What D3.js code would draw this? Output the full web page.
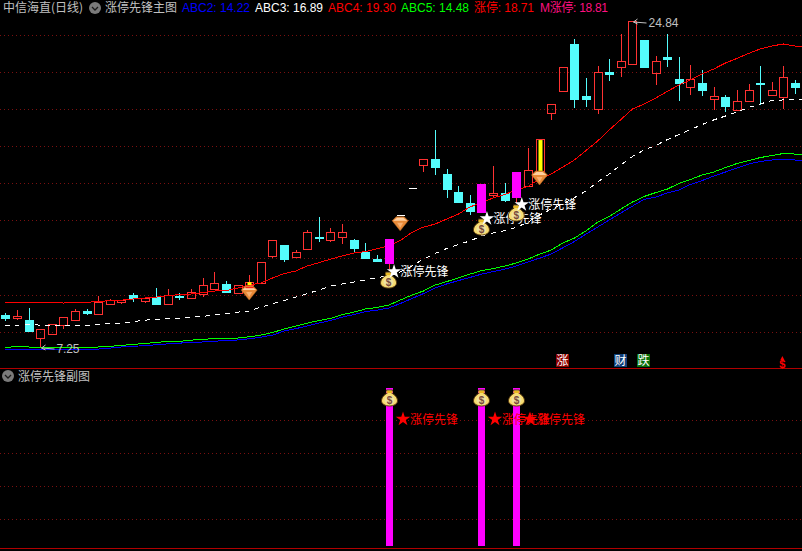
<!DOCTYPE html>
<html>
<head>
<meta charset="utf-8">
<title>涨停先锋</title>
<script src="https://d3js.org/d3.v7.min.js"></script>
<style>
    html, body { margin: 0; padding: 0; background: #000; }
    svg { display: block; }
    text { font-family: "Noto Sans CJK SC", "Liberation Sans", sans-serif; }
    .latin { font-family: "Liberation Sans", sans-serif; }
</style>
</head>
<body>
<div id="chart"></div>
<script>
// Daily candles
var opens = [8.97,8.81,8.70,7.73,7.94,8.43,8.70,9.19,9.03,9.57,9.67,10.05,9.73,9.95,9.57,10.00,9.89,10.10,10.38,10.65,10.16,10.59,10.70,12.16,12.75,12.10,12.53,13.18,13.02,13.18,13.02,12.37,12.00,11.72,14.37,15.83,17.07,17.39,16.58,15.61,15.02,14.47,15.45,15.56,15.29,15.93,16.74,19.87,21.06,23.60,20.79,20.09,22.09,22.36,22.52,23.81,22.03,22.90,21.71,21.28,21.49,20.63,20.74,20.04,20.52,21.49,20.85,20.74,21.49];
var highs = [9.08,9.24,9.35,8.22,8.48,8.86,9.30,9.30,9.99,9.84,9.78,10.16,9.89,10.43,10.38,10.16,10.38,10.97,11.29,10.81,10.59,11.13,11.83,13.02,12.75,12.48,13.56,14.26,13.67,13.88,13.07,12.86,12.21,13.07,14.37,15.83,17.39,18.96,16.85,15.93,15.45,16.04,17.01,16.09,16.69,17.98,18.47,20.36,22.36,23.87,21.76,22.41,22.79,24.14,24.84,23.81,22.95,24.14,22.90,22.46,22.20,21.28,20.85,21.12,21.44,22.41,21.55,22.41,21.66];
var lows = [8.65,8.70,8.05,7.25,7.94,8.22,8.65,8.97,9.03,9.57,9.57,9.67,9.62,9.57,9.57,9.78,9.84,9.95,10.38,10.16,10.16,10.43,10.70,12.05,11.83,12.10,12.53,12.91,12.91,12.80,12.37,12.00,11.83,11.45,14.37,15.83,16.69,16.53,15.29,15.02,14.37,14.47,15.29,15.07,15.02,15.93,16.74,19.50,21.06,20.14,20.20,19.82,21.60,21.82,22.52,22.36,21.39,22.36,20.52,20.85,20.79,20.04,19.93,20.04,20.52,20.31,20.85,20.09,20.90];
var closes = [8.81,8.92,8.11,8.22,8.48,8.86,9.19,9.08,9.67,9.78,9.78,9.89,9.89,9.57,10.05,9.95,10.21,10.59,10.70,10.21,10.59,10.75,11.83,13.02,12.00,12.37,13.45,13.13,13.45,13.45,12.59,12.05,11.89,13.07,14.37,15.83,17.39,16.96,15.77,15.07,14.58,16.04,15.56,15.18,16.69,16.80,18.47,20.36,22.36,20.63,20.63,22.09,21.98,22.68,24.84,22.36,22.68,22.79,21.49,21.71,21.12,20.79,20.25,20.52,21.12,21.44,21.12,21.82,21.28];

// Moving lines, one value past the last candle so they run to the right edge
var abc2 = [7.12,7.14,7.14,7.14,7.14,7.14,7.14,7.14,7.14,7.19,7.25,7.28,7.33,7.37,7.42,7.46,7.49,7.52,7.57,7.58,7.63,7.69,7.78,7.89,8.11,8.24,8.38,8.54,8.68,8.86,9.00,9.16,9.24,9.35,9.59,9.86,10.13,10.43,10.65,10.83,11.00,11.18,11.32,11.45,11.62,11.83,12.05,12.26,12.60,12.94,13.34,13.72,14.10,14.48,14.85,15.21,15.34,15.56,15.72,16.02,16.23,16.47,16.69,16.91,17.12,17.26,17.34,17.39,17.34,17.30];
var abc3 = [8.43,8.43,8.46,8.43,8.43,8.43,8.41,8.41,8.46,8.51,8.54,8.62,8.70,8.73,8.77,8.81,8.86,8.90,8.97,9.05,9.13,9.19,9.40,9.59,9.76,9.94,10.13,10.32,10.54,10.65,10.75,10.86,11.00,11.08,11.29,11.62,11.99,12.29,12.56,12.78,12.97,13.24,13.40,13.53,13.70,13.99,14.37,14.69,14.96,15.31,15.67,16.15,16.58,17.07,17.53,17.88,18.12,18.44,18.71,18.98,19.25,19.50,19.71,19.93,20.17,20.36,20.55,20.58,20.58,20.58];
var abc4 = [9.67,9.67,9.67,9.67,9.67,9.62,9.67,9.67,9.69,9.76,9.78,9.84,9.89,9.94,10.02,10.08,10.11,10.19,10.27,10.29,10.43,10.59,10.70,10.97,11.21,11.35,11.62,11.80,11.99,12.16,12.32,12.40,12.55,12.70,12.99,13.43,13.72,13.88,14.15,14.42,14.80,15.04,15.29,15.48,15.72,15.91,16.31,16.58,16.96,17.34,17.85,18.36,18.96,19.52,20.09,20.36,20.68,21.04,21.39,21.66,21.98,22.25,22.57,22.82,23.09,23.33,23.49,23.60,23.49,23.44];
var abc5 = [7.23,7.27,7.25,7.25,7.25,7.25,7.25,7.25,7.25,7.28,7.34,7.39,7.44,7.50,7.55,7.55,7.62,7.66,7.71,7.71,7.73,7.80,7.89,8.03,8.22,8.38,8.54,8.68,8.79,9.00,9.13,9.30,9.38,9.51,9.78,10.05,10.27,10.59,10.78,10.97,11.18,11.37,11.48,11.62,11.78,11.99,12.26,12.48,12.86,13.13,13.51,13.99,14.29,14.69,15.07,15.37,15.58,15.77,16.07,16.29,16.53,16.69,16.93,17.15,17.31,17.47,17.58,17.69,17.66,17.65];

// Signal bars and markers
var signalBars = [33, 41, 44];
var limitBars = [46];
var bagPrices = [10.86, 13.72, 14.48];
var diamondBars = [21, 34, 46];
var diamondPrices = [10.16, 13.90, 16.37];
var signalLabel = "涨停先锋";

// Grid levels
var mainGrid = [24.08, 22.09, 20.09, 18.09, 16.10, 14.10, 12.05, 10.05, 8.06];
var subGrid = [0.8, 0.59, 0.38, 0.17];

// Legend
var legendNames = ["ABC2", "ABC3", "ABC4", "ABC5", "涨停", "M涨停"];
var legendValues = ["14.22", "16.89", "19.30", "14.48", "18.71", "18.81"];
var legendColors = ["#0000ff", "#ffffff", "#ff0000", "#00ff00", "#ff0000", "#ff1080"];

var bars = d3.range(opens.length);

var width = 802, height = 551;
var red = "#ff3232", cyan = "#54fcfc", magenta = "#ff00ff", grey = "#c0c0c0";
var bodyW = 8;

var svg = d3.select("#chart").append("svg")
    .attr("width", width)
    .attr("height", height);

var x = d3.scaleLinear().domain([0, 68]).range([5.3, 795]);
var y = d3.scaleLinear().domain([7.25, 24.84]).range([347, 21]);
var ySub = d3.scaleLinear().domain([0, 1]).range([546, 388]);

function px(v) { return Math.round(v) + 0.5; }

// Grid and panel lines
svg.append("g").selectAll("line")
    .data(mainGrid)
    .enter().append("line")
    .attr("x1", 0).attr("x2", width)
    .attr("y1", function(d) { return px(y(d)); })
    .attr("y2", function(d) { return px(y(d)); })
    .attr("stroke", "#7a1010")
    .attr("stroke-dasharray", "1 3");

svg.append("g").selectAll("line")
    .data(subGrid)
    .enter().append("line")
    .attr("x1", 0).attr("x2", width)
    .attr("y1", function(d) { return px(ySub(d)); })
    .attr("y2", function(d) { return px(ySub(d)); })
    .attr("stroke", "#7a1010")
    .attr("stroke-dasharray", "1 3");

svg.append("g").selectAll("line")
    .data([368, 548])
    .enter().append("line")
    .attr("x1", 0).attr("x2", width)
    .attr("y1", function(d) { return d + 0.5; })
    .attr("y2", function(d) { return d + 0.5; })
    .attr("stroke", "#b00000");

// Candles
function candleColor(i) {
    if (opens[i] === closes[i]) return "#ffffff";
    return closes[i] > opens[i] ? red : cyan;
}

function bodyHeight(i) {
    return Math.round(y(Math.min(opens[i], closes[i]))) - Math.round(y(Math.max(opens[i], closes[i])));
}

var plain = bars.filter(function(i) { return signalBars.indexOf(i) < 0; });

var candles = svg.append("g").attr("shape-rendering", "crispEdges");

candles.selectAll("line.upper")
    .data(plain)
    .enter().append("line")
    .attr("class", "upper")
    .attr("x1", function(i) { return px(x(i)); })
    .attr("x2", function(i) { return px(x(i)); })
    .attr("y1", function(i) { return y(highs[i]); })
    .attr("y2", function(i) { return y(Math.max(opens[i], closes[i])); })
    .attr("stroke", candleColor);

candles.selectAll("line.lower")
    .data(plain)
    .enter().append("line")
    .attr("class", "lower")
    .attr("x1", function(i) { return px(x(i)); })
    .attr("x2", function(i) { return px(x(i)); })
    .attr("y1", function(i) { return y(Math.min(opens[i], closes[i])); })
    .attr("y2", function(i) { return y(lows[i]); })
    .attr("stroke", candleColor);

candles.selectAll("rect")
    .data(plain.filter(function(i) { return bodyHeight(i) > 0; }))
    .enter().append("rect")
    .attr("x", function(i) { return px(x(i)) - bodyW / 2; })
    .attr("y", function(i) { return px(y(Math.max(opens[i], closes[i]))); })
    .attr("width", bodyW)
    .attr("height", bodyHeight)
    .attr("fill", function(i) { return closes[i] < opens[i] ? cyan : "none"; })
    .attr("stroke", candleColor);

// Flat days have no body height, only a dash
candles.selectAll("line.flat")
    .data(plain.filter(function(i) { return bodyHeight(i) === 0; }))
    .enter().append("line")
    .attr("class", "flat")
    .attr("x1", function(i) { return px(x(i)) - bodyW / 2; })
    .attr("x2", function(i) { return px(x(i)) + bodyW / 2; })
    .attr("y1", function(i) { return px(y(opens[i])); })
    .attr("y2", function(i) { return px(y(opens[i])); })
    .attr("stroke", candleColor);

// Lines
function lineFor(values) {
    return d3.line()
        .x(function(d, i) { return x(i); })
        .y(function(d) { return y(d); })(values);
}

var lines = svg.append("g")
    .attr("fill", "none")
    .attr("shape-rendering", "crispEdges");

lines.append("path").attr("d", lineFor(abc2)).attr("stroke", "#0000ff");
lines.append("path").attr("d", lineFor(abc5)).attr("stroke", "#00ff00");
lines.append("path").attr("d", lineFor(abc4)).attr("stroke", "#ff0000");
lines.append("path").attr("d", lineFor(abc3)).attr("stroke", "#ffffff").attr("stroke-dasharray", "5 5");

// Limit up bars, the yellow core inside the red outline
svg.append("g").selectAll("rect")
    .data(limitBars)
    .enter().append("rect")
    .attr("x", function(i) { return px(x(i)) - 2; })
    .attr("y", function(i) { return y(closes[i]) + 1; })
    .attr("width", 4)
    .attr("height", function(i) { return y(opens[i]) - y(closes[i]) - 1; })
    .attr("fill", "#ffff00");

// Signal candles
var signals = svg.append("g").attr("shape-rendering", "crispEdges");

signals.selectAll("line")
    .data(signalBars)
    .enter().append("line")
    .attr("x1", function(i) { return px(x(i)); })
    .attr("x2", function(i) { return px(x(i)); })
    .attr("y1", function(i) { return y(opens[i]); })
    .attr("y2", function(i) { return y(lows[i]); })
    .attr("stroke", red);

signals.selectAll("rect")
    .data(signalBars)
    .enter().append("rect")
    .attr("x", function(i) { return px(x(i)) - bodyW / 2 - 0.5; })
    .attr("y", function(i) { return y(closes[i]); })
    .attr("width", bodyW + 1)
    .attr("height", function(i) { return y(opens[i]) - y(closes[i]); })
    .attr("fill", magenta);

// Marks
function drawBag(g) {
    g.append("path")
        .attr("d", "M-3,-8 L3,-8 L2,-5 C6,-3 8,0 8,3 C8,6 4,8 0,8 C-4,8 -8,6 -8,3 C-8,0 -6,-3 -2,-5 Z")
        .attr("fill", "#f6dc70")
        .attr("stroke", "#5a3a10");
    g.append("ellipse")
        .attr("cy", 2).attr("rx", 5).attr("ry", 4.5)
        .attr("fill", "#efe2a0");
    g.append("rect")
        .attr("x", -3).attr("y", -7).attr("width", 6).attr("height", 2)
        .attr("fill", "#e8b820");
    g.append("text")
        .attr("y", 6)
        .attr("text-anchor", "middle")
        .attr("class", "latin")
        .attr("font-size", 10)
        .attr("font-weight", "bold")
        .attr("fill", "#7a4a3a")
        .text("$");
}

function drawDiamond(g) {
    g.append("path")
        .attr("d", "M-8,-3 L-4,-7 L4,-7 L8,-3 L0,7 Z")
        .attr("fill", "#e88a38")
        .attr("stroke", "#b86a20")
        .attr("stroke-width", 0.5);
    g.append("path")
        .attr("d", "M-7,-3 L-3,-6 L3,-6 L7,-3 Z")
        .attr("fill", "#ffd0a0");
    g.append("path")
        .attr("d", "M-3,-1 L3,-1 L0,4 Z")
        .attr("fill", "#f8b070");
}

var star = d3.symbol().type(d3.symbolStar);

svg.append("g").selectAll("g")
    .data(diamondBars)
    .enter().append("g")
    .attr("transform", function(d, k) { return "translate(" + x(d) + "," + y(diamondPrices[k]) + ")"; })
    .each(function() { drawDiamond(d3.select(this)); });

// A small yellow and red flag sits over the first diamond
svg.append("rect")
    .attr("x", px(x(21)) - 2).attr("y", y(10.75)).attr("width", 4).attr("height", 3)
    .attr("fill", "#ffff00");
svg.append("rect")
    .attr("x", px(x(21)) - 4).attr("y", y(10.48)).attr("width", 8).attr("height", 1)
    .attr("fill", "#ff0000");

signalBars.forEach(function(bar, k) {
    var cx = x(bar), cy = y(bagPrices[k]);
    drawBag(svg.append("g").attr("transform", "translate(" + cx + "," + cy + ")"));
    svg.append("path")
        .attr("d", star.size(65)())
        .attr("transform", "translate(" + (cx + 5.5) + "," + (cy - 8.5) + ")")
        .attr("fill", "#ffffff");
    svg.append("text")
        .attr("x", cx + 12)
        .attr("y", cy - 4)
        .attr("font-size", 12)
        .attr("fill", "#ffffff")
        .text(signalLabel);
});

// High and low labels
function priceLabel(bar, price, label, labelW) {
    var ax = px(x(bar)) + 1, ay = y(price);
    var g = svg.append("g").attr("stroke", grey).attr("fill", "none");
    g.append("path").attr("d", "M" + (ax + 4) + "," + (ay - 2) + " L" + ax + "," + (ay + 1) + " L" + (ax + 4) + "," + (ay + 3));
    g.append("line")
        .attr("x1", ax).attr("x2", ax + 13)
        .attr("y1", ay + 1).attr("y2", ay + 2);
    svg.append("text")
        .attr("class", "latin")
        .attr("x", ax + 15)
        .attr("y", ay + 6)
        .attr("font-size", 12)
        .attr("textLength", labelW)
        .attr("fill", grey)
        .text(label);
}
priceLabel(54, highs[54], "24.84", 30);
priceLabel(3, lows[3], "7.25", 23);

// Header
function chevron(cx, cy) {
    svg.append("circle").attr("cx", cx).attr("cy", cy).attr("r", 6).attr("fill", "#7a7a7a");
    svg.append("path")
        .attr("d", "M" + (cx - 3) + "," + (cy - 1) + " L" + cx + "," + (cy + 2) + " L" + (cx + 3) + "," + (cy - 1))
        .attr("fill", "none")
        .attr("stroke", "#1a1a1a")
        .attr("stroke-width", 1.3);
}

svg.append("text").attr("x", 3).attr("y", 12).attr("font-size", 12).attr("fill", grey).text("中信海直(日线)");
chevron(95, 8);
svg.append("text").attr("x", 105).attr("y", 12).attr("font-size", 12).attr("fill", grey).text("涨停先锋主图");

var legendX = [182, 255, 328, 401, 474, 540];
var legendW = [68, 68, 68, 68, 60, 68];
legendNames.forEach(function(name, k) {
    svg.append("text")
        .attr("class", "latin")
        .attr("x", legendX[k])
        .attr("y", 12)
        .attr("font-size", 12)
        .attr("textLength", legendW[k])
        .attr("fill", legendColors[k])
        .style("font-family", '"Liberation Sans", "Noto Sans CJK SC", sans-serif')
        .text(name + ": " + legendValues[k]);
});

// Event tags above the divider
var tagBars = [48, 53, 55];
var tagTexts = ["涨", "财", "跌"];
var tagColors = ["#8b0000", "#0f3f78", "#0a6e0a"];

tagBars.forEach(function(bar, k) {
    var cx = x(bar);
    svg.append("rect")
        .attr("x", Math.round(cx) - 7).attr("y", 354).attr("width", 13).attr("height", 13)
        .attr("fill", tagColors[k]);
    svg.append("text")
        .attr("x", Math.round(cx) - 0.5)
        .attr("y", 365)
        .attr("text-anchor", "middle")
        .attr("font-size", 12)
        .attr("fill", "#ffffff")
        .text(tagTexts[k]);
});

svg.append("path")
    .attr("d", "M" + (x(67) - 3) + ",360 L" + (x(67) - 1) + ",356 L" + (x(67) + 1) + ",360 Z")
    .attr("fill", "#ff0000");
svg.append("text")
    .attr("class", "latin")
    .attr("x", x(67) - 1)
    .attr("y", 368)
    .attr("text-anchor", "middle")
    .attr("font-size", 11)
    .attr("font-weight", "bold")
    .attr("fill", "#ff0000")
    .text("$");

// Sub panel
chevron(8, 376);
svg.append("text").attr("x", 18).attr("y", 381).attr("font-size", 12).attr("fill", grey).text("涨停先锋副图");

svg.append("g").attr("shape-rendering", "crispEdges").selectAll("rect")
    .data(signalBars)
    .enter().append("rect")
    .attr("x", function(i) { return Math.round(x(i)) - 3; })
    .attr("y", ySub(1))
    .attr("width", 7)
    .attr("height", ySub(0) - ySub(1))
    .attr("fill", magenta);

signalBars.forEach(function(bar) {
    var cx = Math.round(x(bar)) + 0.5;
    drawBag(svg.append("g").attr("transform", "translate(" + cx + "," + (ySub(1) + 10) + ")"));
    svg.append("path")
        .attr("d", star.size(65)())
        .attr("transform", "translate(" + (cx + 13.5) + "," + 419 + ")")
        .attr("fill", "#ff0000");
    svg.append("text")
        .attr("x", cx + 20.5)
        .attr("y", 424)
        .attr("font-size", 12)
        .attr("fill", "#ff0000")
        .text(signalLabel);
});
</script>
</body>
</html>
